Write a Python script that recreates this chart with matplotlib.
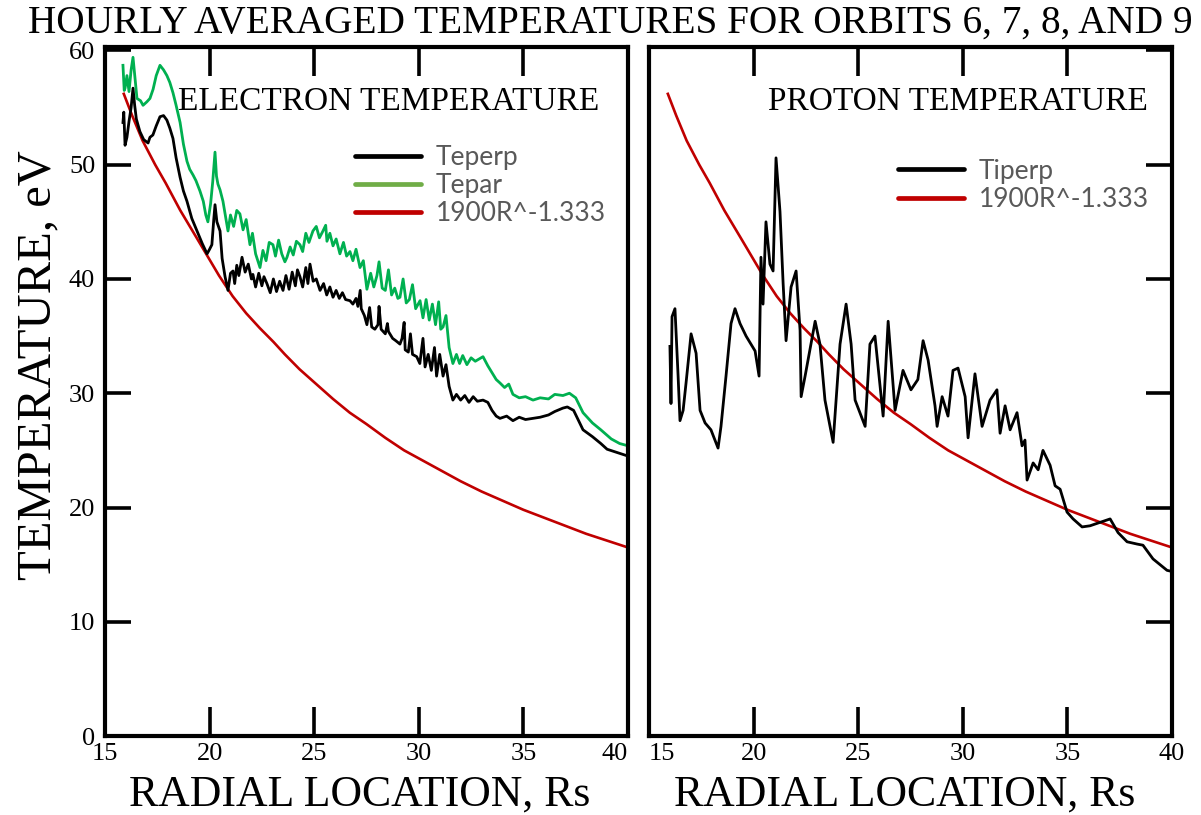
import matplotlib
matplotlib.use('Agg')
import matplotlib.pyplot as plt
from matplotlib.lines import Line2D

# ── Data (R in Rs, T in eV) ──────────────────────────────────────────────────

# electron Teperp (black, left panel)
teperp_r = [15.86, 15.9, 15.96, 16.05, 16.15, 16.25, 16.34, 16.42, 16.5, 16.67,
            16.85, 17.06, 17.15, 17.29, 17.45, 17.63, 17.8, 17.96, 18.1, 18.25,
            18.4, 18.59, 18.75, 18.92, 19.15, 19.4, 19.65, 19.88, 20.0, 20.11,
            20.2, 20.26, 20.35, 20.5, 20.6, 20.74, 20.88, 21.0, 21.12, 21.2,
            21.3, 21.4, 21.55, 21.7, 21.85, 22.0, 22.07, 22.2, 22.35, 22.5,
            22.6, 22.74, 22.9, 23.05, 23.2, 23.35, 23.51, 23.65, 23.8, 23.95,
            24.1, 24.2, 24.32, 24.45, 24.6, 24.7, 24.8, 24.95, 25.1, 25.28,
            25.45, 25.6, 25.75, 25.9, 26.05, 26.2, 26.35, 26.5, 26.71, 26.85,
            27.0, 27.09, 27.2, 27.25, 27.4, 27.52, 27.65, 27.75, 27.9, 28.05,
            28.1, 28.2, 28.4, 28.5, 28.55, 28.75, 28.9, 29.1, 29.2, 29.3,
            29.35, 29.5, 29.6, 29.7, 29.9, 30.05, 30.2, 30.3, 30.45, 30.6,
            30.75, 30.85, 31.0, 31.16, 31.3, 31.45, 31.63, 31.8, 32.0, 32.2,
            32.4, 32.6, 32.8, 33.07, 33.3, 33.5, 33.7, 33.88, 34.2, 34.5,
            34.8, 35.1, 35.46, 35.8, 36.2, 36.5, 36.89, 37.1, 37.4, 37.85,
            38.3, 38.7, 39.0, 39.5, 40.0]
teperp = [53.7, 54.6, 51.7, 52.4, 53.8, 55.0, 56.7, 55.2, 54.0, 52.9,
          52.2, 51.9, 52.4, 52.6, 53.4, 54.2, 54.3, 53.9, 53.2, 52.3,
          50.6, 48.9, 47.7, 46.8, 45.3, 44.2, 43.1, 42.2, 42.6, 43.0,
          45.2, 46.5, 45.0, 44.2, 41.8, 40.2, 39.0, 40.5, 40.7, 39.6,
          41.2, 40.3, 41.9, 40.6, 41.3, 40.0, 40.4, 39.3, 40.5, 39.4,
          40.2, 39.6, 38.8, 40.0, 38.9, 39.8, 39.0, 40.3, 39.1, 40.6,
          39.4, 40.8, 40.2, 39.3, 41.0, 39.6, 41.3, 39.8, 40.0, 39.0,
          39.6, 38.6, 39.3, 38.4, 39.0, 38.3, 38.8, 38.2, 38.1, 37.8,
          38.3, 37.6, 39.0, 37.4, 36.8, 36.0, 37.5, 35.8, 35.6, 36.0,
          37.6, 35.6, 35.2, 36.1, 35.4, 34.8, 34.6, 34.3, 34.8, 36.2,
          33.8, 33.6, 35.2, 33.4, 33.2, 32.6, 34.8, 32.3, 33.4, 32.0,
          34.0, 31.5, 33.4, 31.5, 32.5, 30.6, 29.4, 29.9, 29.4, 29.8,
          29.2, 29.7, 29.3, 29.4, 29.2, 28.5, 28.0, 27.8, 28.0, 27.6,
          27.9, 27.7, 27.8, 27.9, 28.1, 28.4, 28.7, 28.8, 28.5, 26.8,
          26.2, 25.6, 25.1, 24.8, 24.5]

# electron Tepar (green, left panel)
tepar_r = [15.86, 15.92, 15.96, 16.05, 16.15, 16.25, 16.34, 16.45, 16.53, 16.7,
           16.82, 17.0, 17.15, 17.3, 17.45, 17.63, 17.8, 17.96, 18.1, 18.25,
           18.4, 18.59, 18.75, 18.92, 19.05, 19.21, 19.35, 19.54, 19.7, 19.82,
           19.92, 20.05, 20.15, 20.26, 20.33, 20.4, 20.5, 20.64, 20.75, 20.88,
           21.0, 21.15, 21.3, 21.45, 21.6, 21.75, 21.93, 22.05, 22.2, 22.41,
           22.55, 22.7, 22.85, 23.03, 23.15, 23.3, 23.45, 23.6, 23.7, 23.85,
           24.0, 24.15, 24.32, 24.45, 24.6, 24.75, 24.94, 25.1, 25.25, 25.42,
           25.55, 25.61, 25.75, 25.9, 26.05, 26.23, 26.4, 26.55, 26.71, 26.85,
           27.0, 27.19, 27.35, 27.52, 27.7, 27.85, 28.0, 28.1, 28.25, 28.4,
           28.55, 28.7, 28.85, 29.0, 29.1, 29.25, 29.4, 29.55, 29.7, 29.85,
           30.06, 30.2, 30.35, 30.5, 30.65, 30.8, 30.95, 31.05, 31.16, 31.3,
           31.45, 31.63, 31.8, 31.95, 32.1, 32.3, 32.5, 32.7, 33.07, 33.3,
           33.5, 33.7, 33.88, 34.1, 34.3, 34.5, 34.8, 35.1, 35.46, 35.8,
           36.2, 36.5, 36.89, 37.2, 37.5, 37.85, 38.3, 38.7, 39.2, 39.6,
           40.0]
tepar = [58.7, 56.5, 56.7, 57.8, 56.4, 58.3, 59.4, 57.3, 55.8, 55.6,
         55.2, 55.5, 55.8, 56.6, 57.8, 58.7, 58.3, 57.8, 57.2, 56.3,
         55.2, 53.7, 51.8, 50.3, 49.6, 49.1, 48.6, 47.7, 46.8, 45.6,
         45.0, 46.6, 48.5, 51.1, 49.0, 48.3, 47.8, 46.8, 45.6, 44.2,
         45.6, 44.6, 46.0, 45.7, 44.3, 45.2, 43.0, 44.0, 42.2, 41.0,
         42.5, 41.6, 43.2, 43.0, 42.0, 43.4, 42.2, 41.5, 41.9, 42.8,
         42.1, 43.3, 43.0, 42.4, 44.0, 43.2, 44.2, 44.6, 43.6, 44.2,
         44.7, 43.3, 44.0, 42.9, 43.5, 42.2, 43.2, 42.0, 42.4, 41.6,
         42.6, 41.0, 41.6, 39.1, 40.5, 39.3, 40.3, 41.5, 39.2, 39.0,
         40.8, 38.6, 39.2, 38.3, 38.4, 40.0, 37.9, 38.2, 39.5, 37.4,
         38.1, 36.6, 38.2, 36.4, 37.8, 36.0, 38.0, 35.6, 35.8, 36.8,
         34.0, 32.6, 33.4, 32.6, 33.3, 32.5, 33.1, 32.8, 33.2, 32.4,
         31.8, 31.2, 30.9, 30.5, 30.8, 29.9, 29.6, 29.7, 29.4, 29.6,
         29.5, 29.9, 29.8, 30.0, 29.6, 28.3, 27.4, 26.8, 26.0, 25.6,
         25.4]

# proton Tiperp (black, right panel)
tiperp_r = [16.0, 16.05, 16.1, 16.24, 16.39, 16.48, 16.63, 16.77, 17.01, 17.25,
            17.44, 17.68, 17.96, 18.3, 18.44, 18.68, 18.92, 19.11, 19.35, 19.64,
            20.07, 20.26, 20.35, 20.45, 20.59, 20.78, 20.93, 21.07, 21.26, 21.41,
            21.55, 21.79, 22.03, 22.22, 22.27, 22.46, 22.94, 23.17, 23.41, 23.8,
            24.13, 24.42, 24.66, 24.85, 25.33, 25.56, 25.8, 26.19, 26.43, 26.76,
            27.14, 27.52, 27.85, 28.1, 28.34, 28.67, 28.77, 29.01, 29.29, 29.53,
            29.77, 30.11, 30.25, 30.58, 30.92, 31.3, 31.63, 31.78, 32.02, 32.26,
            32.59, 32.83, 32.97, 33.07, 33.36, 33.6, 33.83, 34.17, 34.41, 34.65,
            34.98, 35.27, 35.7, 36.08, 36.56, 37.04, 37.42, 37.85, 38.33, 38.61,
            39.09, 39.76, 40.0]
tiperp = [34.1, 29.1, 36.7, 37.4, 31.5, 27.6, 28.5, 30.9, 35.2, 33.5,
          28.5, 27.4, 26.8, 25.2, 27.1, 31.5, 36.1, 37.4, 36.1, 35.0,
          33.7, 31.5, 41.9, 37.8, 45.0, 41.3, 40.7, 50.6, 45.9, 39.6,
          34.6, 39.3, 40.7, 35.5, 29.7, 31.5, 36.3, 34.3, 29.4, 25.7,
          34.3, 37.8, 34.3, 29.4, 27.1, 34.3, 35.0, 28.0, 36.3, 28.5,
          32.0, 30.3, 31.2, 34.6, 32.9, 28.9, 27.1, 29.7, 28.0, 32.0,
          32.2, 29.7, 26.1, 31.7, 27.1, 29.4, 30.3, 26.5, 28.9, 26.8,
          28.3, 25.4, 25.9, 22.4, 23.9, 23.3, 25.0, 23.7, 21.9, 21.6,
          19.6, 19.0, 18.3, 18.4, 18.7, 19.0, 17.8, 17.0, 16.8, 16.7,
          15.5, 14.5, 14.4]

# 1900R^-1.333 curve (red, both panels)
fit_r = [15.9, 16.3, 16.8, 17.4, 17.9, 18.6, 19.35, 19.9, 20.45, 21.1,
         21.75, 22.4, 23.05, 23.6, 24.3, 25.1, 25.9, 26.7, 27.5, 28.4,
         29.3, 30.2, 31.1, 32.0, 33.0, 34.0, 35.0, 36.0, 37.0, 38.0,
         39.0, 40.0]
fit_t = [56.2, 54.3, 52.1, 50.0, 48.4, 46.0, 43.7, 42.0, 40.3, 38.5,
         37.0, 35.7, 34.5, 33.4, 32.1, 30.8, 29.5, 28.3, 27.3, 26.1,
         25.0, 24.1, 23.2, 22.3, 21.4, 20.6, 19.8, 19.1, 18.4, 17.7,
         17.1, 16.5]

x_ticks = [15, 20, 25, 30, 35, 40]
y_ticks = [0, 10, 20, 30, 40, 50, 60]

electron_keys = ['Teperp', 'Tepar', '1900R^-1.333']
proton_keys = ['Tiperp', '1900R^-1.333']

# ── Style ─────────────────────────────────────────────────────────────────────

SERIF = 'Liberation Serif'
KEY_FONT = 'Lato'
GREEN = '#00B050'
GREEN_KEY = '#70AD47'
RED = '#C00000'
KEY_GREY = '#595959'

plt.rcParams['font.family'] = [SERIF, 'DejaVu Serif']


def style_axes(ax, ticks_left):
    ax.set_xlim(15, 40)
    ax.set_ylim(0, 60.3)
    ax.set_xticks(x_ticks)
    ax.set_yticks(y_ticks)
    for spine in ax.spines.values():
        spine.set_linewidth(3)
    ax.tick_params(axis='x', direction='in', top=True, bottom=True,
                   length=21, width=2.6, pad=5, labelsize=19)
    ax.tick_params(axis='y', direction='in', left=ticks_left, right=not ticks_left,
                   labelleft=ticks_left, labelright=False,
                   length=19, width=2.6, pad=7, labelsize=19)


def key(ax, colors, labels, anchor):
    handles = [Line2D([], [], color=c, lw=3.4, solid_capstyle='round') for c in colors]
    ax.legend(handles, labels, loc='upper left', bbox_to_anchor=anchor,
              frameon=False, prop={'family': KEY_FONT, 'size': 19},
              labelcolor=KEY_GREY, handlelength=2.5, handletextpad=0.55,
              labelspacing=0.12, borderpad=0, borderaxespad=0)


fig = plt.figure(figsize=(12.01, 8.15), dpi=100)
ax_e = fig.add_axes([0.0874, 0.0969, 0.4355, 0.8454])
ax_p = fig.add_axes([0.5404, 0.0969, 0.4355, 0.8454])

# ── Electron panel ────────────────────────────────────────────────────────────
ax_e.plot(fit_r, fit_t, color=RED, lw=1.9)
ax_e.plot(tepar_r, tepar, color=GREEN, lw=2.0)
ax_e.plot(teperp_r, teperp, color='black', lw=2.0)
style_axes(ax_e, True)
ax_e.text(0.14, 0.909, 'ELECTRON TEMPERATURE', transform=ax_e.transAxes,
          fontsize=24, va='baseline', ha='left')
key(ax_e, ['black', GREEN_KEY, RED], electron_keys, (0.478, 0.858))

# ── Proton panel ──────────────────────────────────────────────────────────────
ax_p.plot(fit_r, fit_t, color=RED, lw=1.9)
ax_p.plot(tiperp_r, tiperp, color='black', lw=2.0)
style_axes(ax_p, False)
ax_p.text(0.2275, 0.909, 'PROTON TEMPERATURE', transform=ax_p.transAxes,
          fontsize=24, va='baseline', ha='left')
key(ax_p, ['black', RED], proton_keys, (0.476, 0.838))

# edge labels of the two x axes sit side by side: push them apart
ax_e.get_xticklabels()[-1].set_horizontalalignment('right')
ax_p.get_xticklabels()[0].set_horizontalalignment('left')

# ── Figure texts ──────────────────────────────────────────────────────────────
fig.text(0.508, 0.9595, 'HOURLY AVERAGED TEMPERATURES FOR ORBITS 6, 7, 8, AND 9',
         fontsize=28.3, ha='center', va='baseline')
fig.text(0.032, 0.552, 'TEMPERATURE, eV', rotation=90, fontsize=35,
         ha='center', va='center')
fig.text(0.2998, 0.011, 'RADIAL LOCATION, Rs', fontsize=31.5, ha='center', va='baseline')
fig.text(0.7535, 0.011, 'RADIAL LOCATION, Rs', fontsize=31.5, ha='center', va='baseline')

fig.savefig('out.png', dpi=100)
